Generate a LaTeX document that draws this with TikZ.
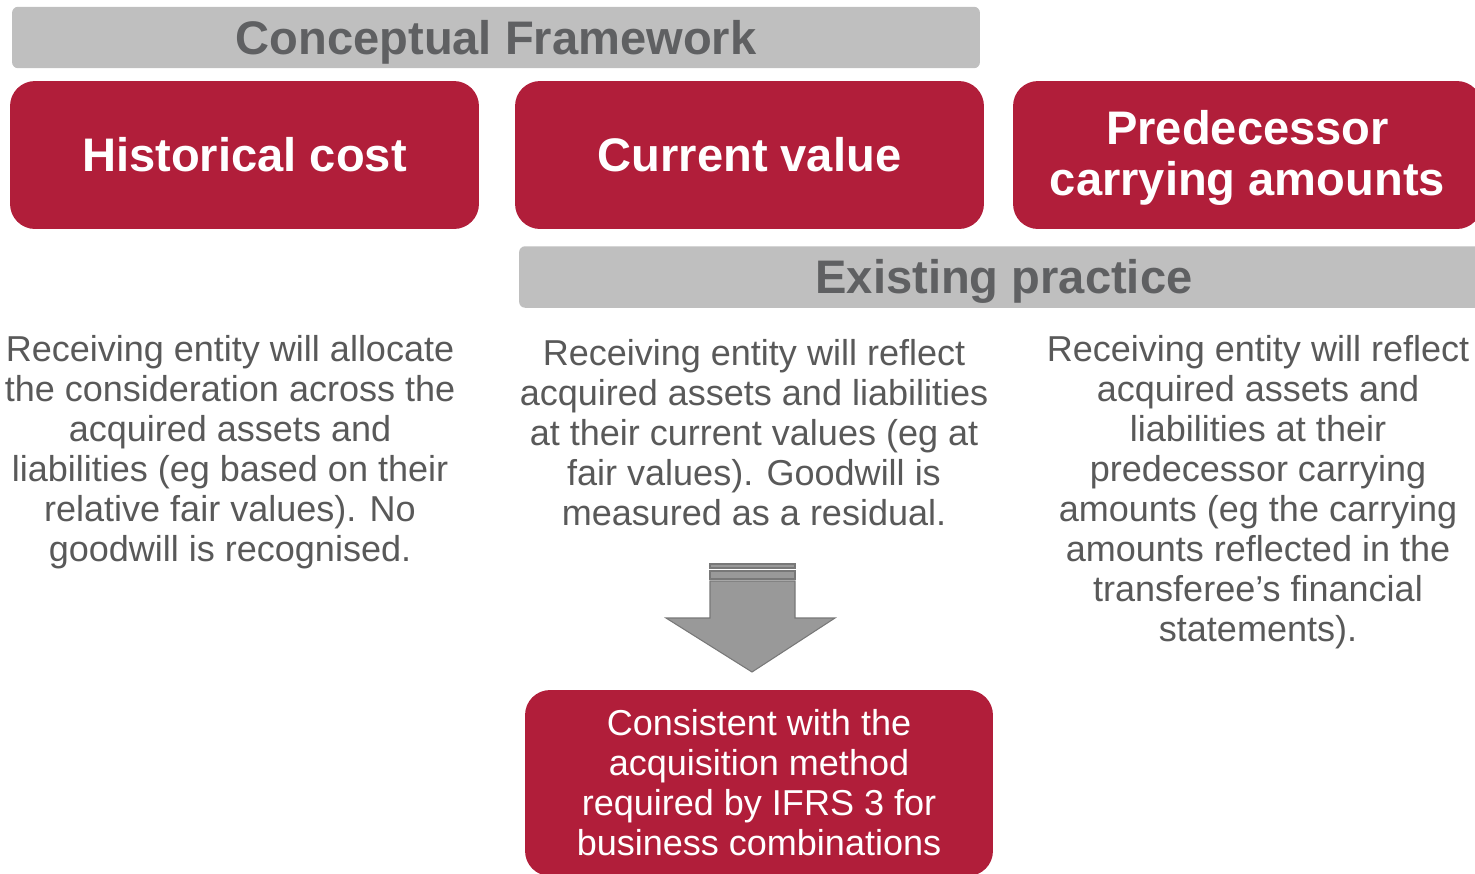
\documentclass[tikz,border=0pt]{standalone}
\usepackage{fontspec}
\setmainfont{Liberation Sans}
\usepackage{xcolor}
\usepackage{tikz}
\usetikzlibrary{positioning}

\definecolor{boxred}{RGB}{177,30,58}
\definecolor{barfill}{RGB}{191,191,191}
\definecolor{bartext}{RGB}{95,96,98}
\definecolor{bodytext}{RGB}{89,89,89}
\definecolor{arrowgray}{RGB}{153,153,153}
\definecolor{arrowedge}{RGB}{120,120,120}

\begin{document}
\begin{tikzpicture}[x=0.02cm, y=-0.02cm,
  bar/.style={fill=barfill, rounded corners=1.2mm, inner sep=0pt,
    minimum height=1.23cm, text depth=0.03em, text=bartext,
    font=\fontsize{26.8}{30}\selectfont\bfseries},
  headbox/.style={fill=boxred, rounded corners=5mm, inner sep=0pt,
    minimum width=9.38cm, minimum height=2.96cm, text=white, align=center,
    font=\fontsize{26.8}{29}\selectfont\bfseries},
  bodytxt/.style={align=center, inner sep=0pt, text=bodytext,
    font=\fontsize{20.5}{22.8}\selectfont},
  outcome/.style={fill=boxred, rounded corners=5mm, inner sep=0pt,
    minimum width=9.36cm, minimum height=3.72cm, text=white, align=center,
    font=\fontsize{20.5}{22.8}\selectfont}]
\useasboundingbox (0,0) rectangle (1475,873);

% grey banners
\node[bar, minimum width=19.36cm] (concept) at (496,37.5) {Conceptual Framework};
\node[bar, minimum width=19.4cm] (existing) at (1004,277) {Existing practice};

% the three measurement bases
\foreach \name/\x/\txt in {hist/244.5/{Historical cost},
    curr/749.5/{Current value}}{
  \node[headbox] (\name) at (\x,155) {\txt};
}
\node[headbox, text depth=2.2pt] (pred) at (1247.5,155)
  {Predecessor\\carrying amounts};

% what the receiving entity does under each basis
\node[bodytxt] (histtxt) at (230,452) {Receiving entity will allocate\\
  the consideration across the\\ acquired assets and\\
  liabilities (eg based on their\\ relative fair values). No\\
  goodwill is recognised.};
\node[bodytxt] (currtxt) at (754,433) {Receiving entity will reflect\\
  acquired assets and liabilities\\ at their current values (eg at\\
  fair values). Goodwill is\\ measured as a residual.};
\node[bodytxt] (predtxt) at (1258,492) {Receiving entity will reflect\\
  acquired assets and\\ liabilities at their\\ predecessor carrying\\
  amounts (eg the carrying\\ amounts reflected in the\\
  transferee's financial\\ statements).};

% block arrow down to the result
\foreach \ya/\yb in {564/568, 571/579}{
  \filldraw[fill=arrowgray, draw=arrowedge, line width=0.6pt]
    (710,\ya) rectangle (795,\yb);
}
\filldraw[fill=arrowgray, draw=arrowedge, line width=0.6pt]
  (710,581) -- (795,581) -- (795,618) -- (835,618) -- (752,672)
  -- (666,618) -- (710,618) -- cycle;

\node[outcome] (ifrs) at (759,783) {Consistent with the\\
  acquisition method\\ required by IFRS 3 for\\ business combinations};
\end{tikzpicture}
\end{document}
